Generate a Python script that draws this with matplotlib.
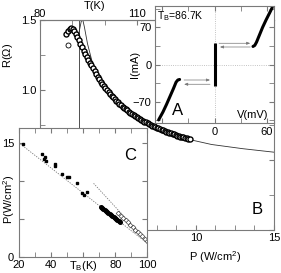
import matplotlib
matplotlib.use("Agg")
import matplotlib.pyplot as plt
from matplotlib.ticker import MultipleLocator, FixedLocator, FixedFormatter

# --- main panel B: R vs P ---
circ_p = [1.7, 1.8, 1.9, 2.0, 2.1, 2.2, 2.3, 2.4, 2.5, 2.6, 2.7, 2.8, 2.9, 3.0,
          3.1, 3.2, 3.3, 3.4, 3.5, 3.6, 3.7, 3.8, 3.9, 4.0, 4.1, 4.2, 4.3, 4.4,
          4.5, 4.6, 4.7, 4.8, 4.9, 5.0, 5.1, 5.2, 5.3, 5.4, 5.5, 5.6, 5.7, 5.8,
          5.9, 6.0, 6.1, 6.2, 6.3, 6.4, 6.5, 6.6, 6.7, 6.8, 6.9, 7.0, 7.1, 7.2,
          7.3, 7.4, 7.5, 7.6, 7.7, 7.8, 7.9, 8.0, 8.1, 8.2, 8.3, 8.4, 8.5, 8.6,
          8.7, 8.8, 8.9, 9.0, 9.1, 9.2, 9.3, 9.4, 9.5, 9.6]
circ_r = [1.40, 1.42, 1.435, 1.44, 1.435, 1.42, 1.40, 1.38, 1.355, 1.33, 1.305, 1.28,
          1.255, 1.235, 1.215, 1.195, 1.175, 1.155, 1.135, 1.115, 1.095, 1.075, 1.058,
          1.042, 1.027, 1.012, 0.998, 0.984, 0.971, 0.958, 0.946, 0.934, 0.923, 0.912,
          0.901, 0.891, 0.881, 0.871, 0.862, 0.853, 0.845, 0.837, 0.829, 0.821, 0.814,
          0.807, 0.80, 0.793, 0.786, 0.78, 0.774, 0.768, 0.762, 0.756, 0.751, 0.745,
          0.74, 0.735, 0.73, 0.725, 0.72, 0.715, 0.711, 0.706, 0.702, 0.698, 0.694,
          0.69, 0.686, 0.682, 0.678, 0.674, 0.671, 0.667, 0.664, 0.66, 0.657, 0.653,
          0.65, 0.646]
lone_p = [1.8]
lone_r = [1.32]
fit_p = [2.45, 2.65, 2.75, 2.85, 3.05, 3.35, 3.75, 4.15, 4.65, 5.15, 6.15, 7.15, 8.15, 9.6, 11.0, 13.0, 15.0]
fit_r = [1.38, 1.49, 1.5, 1.45, 1.33, 1.2, 1.09, 1.01, 0.94, 0.89, 0.81, 0.755, 0.708, 0.645, 0.61, 0.58, 0.555]
p_mark = 2.5

# --- inset A: I-V at T_B = 86.7 K ---
sc_v = [0, 0]
sc_i = [-40, 40]
right_v = [44, 46, 48, 51, 55, 59, 63, 66]
right_i = [34, 36, 42, 54, 70, 84, 97, 107]
left_v = [-40, -42, -44, -47, -51, -55, -59, -64]
left_i = [-28, -29, -33, -45, -60, -75, -89, -104]

# --- inset C: P vs T_B ---
sq_t = [22.3, 34.2, 36.2, 35.6, 36.7, 42.5, 42.1, 46.7, 49.8, 51.4, 56.1, 59.2, 60.8, 62.3]
sq_p = [14.9, 13.6, 13.2, 12.9, 12.6, 12.2, 12.0, 11.0, 10.6, 10.6, 9.7, 8.4, 8.2, 8.6]
band_t = [71.0, 71.8, 72.6, 73.4, 74.2, 75.0, 75.8, 76.6, 77.4, 78.2, 79.0, 79.8, 80.6, 81.4, 82.2, 83.0]
band_p = [6.62, 6.5, 6.36, 6.22, 6.1, 5.96, 5.83, 5.7, 5.57, 5.43, 5.3, 5.17, 5.04, 4.9, 4.77, 4.63]
open_t = [82.0, 83.5, 85.0, 86.5, 88.0, 89.5, 91.0, 92.5, 94.0, 95.5, 97.0, 98.5, 99.8]
open_p = [5.75, 5.45, 5.15, 4.85, 4.55, 4.25, 3.95, 3.6, 3.3, 3.0, 2.7, 2.35, 2.05]
low_t = [19.6, 100.0]
low_p = [15.1, 1.8]
up_t = [66.5, 100.5]
up_p = [9.7, 1.9]

spine_col = "#7a7a7a"
plt.rcParams.update({
    "font.family": ["Liberation Sans", "DejaVu Sans"],
    "font.size": 8,
    "mathtext.default": "regular",
    "axes.linewidth": 0.8,
    "axes.edgecolor": spine_col,
    "xtick.color": spine_col,
    "ytick.color": spine_col,
    "xtick.labelcolor": "black",
    "ytick.labelcolor": "black",
    "xtick.direction": "in",
    "ytick.direction": "in",
    "xtick.major.size": 3.5,
    "ytick.major.size": 3.5,
    "xtick.minor.size": 3.5,
    "ytick.minor.size": 3.5,
    "xtick.major.pad": 2.5,
    "ytick.major.pad": 2.5,
})

fig = plt.figure(figsize=(2.81, 2.73), dpi=100)

ax = fig.add_axes([0.142, 0.158, 0.833, 0.769])
ax.plot(fit_p, fit_r, color="#333333", lw=0.6, zorder=2)
ax.plot(circ_p, circ_r, "o", mfc="white", mec="black", ms=3.6, mew=1.0, zorder=3)
ax.plot(lone_p, lone_r, "o", mfc="white", mec="black", ms=3.6, mew=0.6, zorder=3)
ax.axvline(p_mark, color="#333333", lw=0.6, zorder=1)
ax.set_xlim(0, 15)
ax.set_ylim(0, 1.5)
ax.xaxis.set_major_locator(MultipleLocator(5))
ax.xaxis.set_minor_locator(MultipleLocator(1.25))
ax.yaxis.set_major_locator(MultipleLocator(0.5))
ax.yaxis.set_minor_locator(MultipleLocator(0.25))
ax.tick_params(which="both", right=True, top=False)
ax.set_xlabel(r"P (W/cm$^2$)")
ax.xaxis.set_label_coords(0.75, -0.09)
ax.set_ylabel(r"R($\Omega$)")
ax.yaxis.set_label_coords(-0.105, 0.83)
ax.text(0.93, 0.095, "B", transform=ax.transAxes, fontsize=12, ha="center", va="center")
ax.text(0.235, 1.068, "T(K)", transform=ax.transAxes, ha="center", va="center")

top = ax.secondary_xaxis("top", functions=(lambda p: 80 + 4.83 * p, lambda t: (t - 80) / 4.83))
top.xaxis.set_major_locator(FixedLocator([80, 110, 140]))
top.xaxis.set_minor_locator(MultipleLocator(10))
top.tick_params(which="both", direction="in", length=3.5, pad=0.5)

axA = fig.add_axes([0.552, 0.549, 0.423, 0.429])
axA.axhline(0, color="#b0b0b0", lw=0.6, ls=":", zorder=0)
axA.axvline(0, color="#b0b0b0", lw=0.6, ls=":", zorder=0)
axA.plot(sc_v, sc_i, color="black", lw=2.2, solid_capstyle="butt")
axA.plot(right_v, right_i, color="black", lw=2.2, solid_capstyle="round")
axA.plot(left_v, left_i, color="black", lw=2.2, solid_capstyle="round")
arrow_kw = dict(arrowstyle="-|>,head_length=0.25,head_width=0.1", color="#777777", lw=0.5)
axA.annotate("", xy=(44, 40), xytext=(2, 40), arrowprops=arrow_kw)
axA.annotate("", xy=(3, 33), xytext=(44, 33), arrowprops=arrow_kw)
axA.annotate("", xy=(-2, -29), xytext=(-38, -29), arrowprops=arrow_kw)
axA.annotate("", xy=(-38, -37), xytext=(-2, -37), arrowprops=arrow_kw)
axA.set_xlim(-68, 68)
axA.set_ylim(-110, 110)
axA.xaxis.set_major_locator(FixedLocator([-60, 0, 60]))
axA.xaxis.set_major_formatter(FixedFormatter(["", "0", "60"]))
axA.xaxis.set_minor_locator(MultipleLocator(30))
axA.yaxis.set_major_locator(MultipleLocator(70))
axA.yaxis.set_minor_locator(MultipleLocator(35))
axA.tick_params(which="both", right=True, top=True)
axA.set_ylabel("I(mA)")
axA.yaxis.set_label_coords(-0.125, 0.5)
axA.text(0.02, 0.915, r"T$_B$=86.7K", transform=axA.transAxes, fontsize=7.5, ha="left", va="center")
axA.text(0.19, 0.11, "A", transform=axA.transAxes, fontsize=12, ha="center", va="center")
axA.text(0.95, 0.07, "V(mV)", transform=axA.transAxes, ha="right", va="center")

axC = fig.add_axes([0.068, 0.059, 0.456, 0.472])
axC.plot(low_t, low_p, color="#777777", lw=0.6, ls=(0, (1.5, 1.5)))
axC.plot(up_t, up_p, color="#777777", lw=0.6, ls=(0, (1.5, 1.5)))
axC.plot(sq_t, sq_p, "s", color="black", ms=2.1)
axC.plot(band_t, band_p, "o", color="black", ms=2.6)
axC.plot(open_t, open_p, "D", mfc="white", mec="#444444", ms=2.4, mew=0.5)
axC.set_xlim(20, 100)
axC.set_ylim(0, 17)
axC.xaxis.set_major_locator(FixedLocator([20, 40, 60, 80, 100]))
axC.xaxis.set_major_formatter(FixedFormatter(["20", "40", "", "80", "100"]))
axC.xaxis.set_minor_locator(MultipleLocator(10))
axC.yaxis.set_major_locator(FixedLocator([0, 5, 10, 15]))
axC.yaxis.set_major_formatter(FixedFormatter(["0", "", "", "15"]))
axC.tick_params(which="both", right=True, top=True)
axC.tick_params(axis="y", pad=3.5)
axC.set_xlabel(r"T$_B$(K)")
axC.xaxis.set_label_coords(0.5, -0.015)
axC.set_ylabel(r"P(W/cm$^2$)")
axC.yaxis.set_label_coords(-0.02, 0.45)
axC.text(0.867, 0.79, "C", transform=axC.transAxes, fontsize=12, ha="center", va="center")

fig.savefig("out.png", dpi=100)
